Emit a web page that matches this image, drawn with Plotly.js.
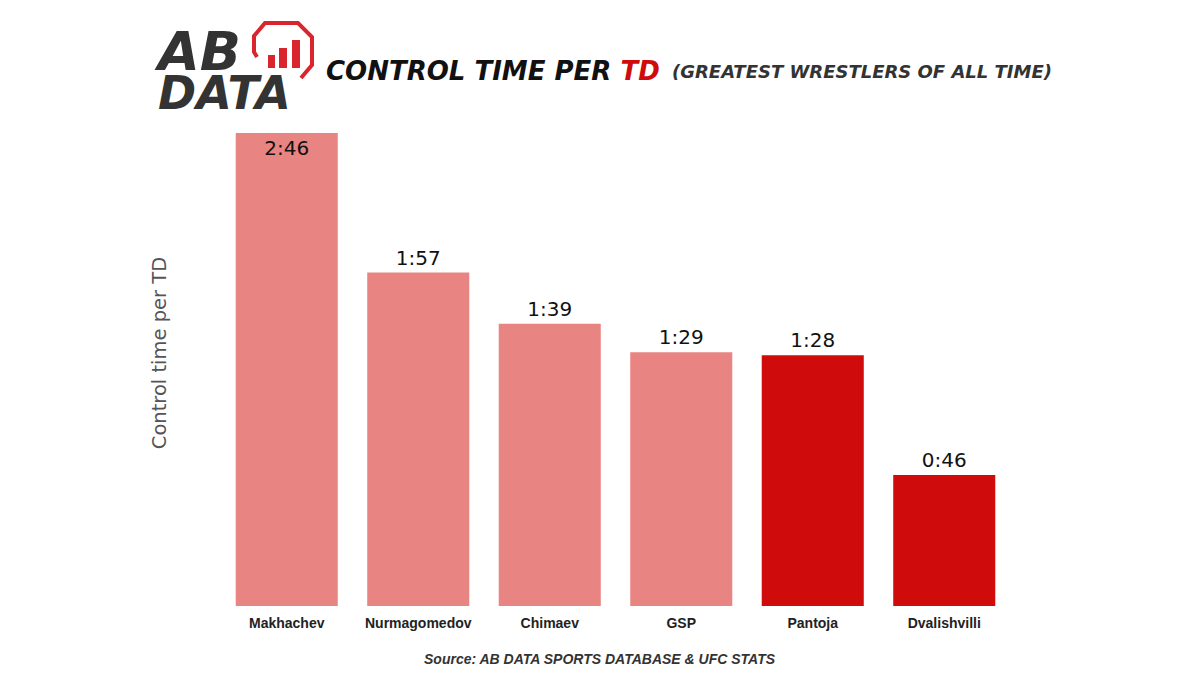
<!DOCTYPE html>
<html>
<head>
<meta charset="utf-8">
<script src="https://cdn.plot.ly/plotly-3.0.1.min.js"></script>
<style>
  html, body { margin: 0; padding: 0; background: #fff; }
  #plot { width: 1200px; height: 675px; }
</style>
</head>
<body>
<div id="plot"></div>
<script>
// fighters and their average control time per takedown (seconds)
const fighters = ["Makhachev", "Nurmagomedov", "Chimaev", "GSP", "Pantoja", "Dvalishvilli"];
const controlSeconds = [166, 117, 99, 89, 88, 46];
const highlighted = [false, false, false, false, true, true];

const LIGHT = "#e88481";
const DARK = "#d00b0b";

const fmt = (s) => Math.floor(s / 60) + ":" + String(s % 60).padStart(2, "0");

// page layout in pixels -> paper coordinates
const W = 1200, H = 675;
const margin = { l: 221, r: 190, t: 100, b: 69 };
const plotW = W - margin.l - margin.r;
const plotH = H - margin.t - margin.b;
const px = (x) => (x - margin.l) / plotW;
const py = (y) => (H - margin.b - y) / plotH;

const trace = {
  type: "bar",
  x: fighters,
  y: controlSeconds,
  text: controlSeconds.map(fmt),
  textposition: controlSeconds.map((v, i) => (i === 0 ? "inside" : "outside")),
  insidetextanchor: "end",
  constraintext: "none",
  cliponaxis: false,
  textfont: { family: "DejaVu Sans, sans-serif", size: 20, color: "#111" },
  marker: {
    color: highlighted.map((h) => (h ? DARK : LIGHT)),
    line: { width: 0 },
  },
  hoverinfo: "skip",
  showlegend: false,
};

// logo octagon (open at bottom-left) and its little bars
const octagon =
  `M ${px(257)} ${py(57)} L ${px(254)} ${py(52)} L ${px(254)} ${py(36)} L ${px(265)} ${py(23)} ` +
  `L ${px(298)} ${py(23)} L ${px(312)} ${py(37)} L ${px(312)} ${py(65)} L ${px(301)} ${py(78)}`;

const shapes = [
  {
    type: "path", xref: "paper", yref: "paper", path: octagon,
    line: { color: "#d9262e", width: 4 },
  },
  ...[[268, 275, 55], [279, 287, 48], [292, 300, 40]].map(([x0, x1, top]) => ({
    type: "rect", xref: "paper", yref: "paper",
    x0: px(x0), x1: px(x1), y0: py(68), y1: py(top),
    fillcolor: "#d9262e", line: { width: 0 },
  })),
];

const annotations = [
  {
    xref: "paper", yref: "paper", x: px(152), y: py(70), xanchor: "left", yanchor: "middle",
    align: "left",
    text: "<b><i><span style='font-size:54px'>AB</span><br><span style='font-size:46px'>DATA</span></i></b>",
    showarrow: false,
    font: { family: "DejaVu Sans, sans-serif", size: 30, color: "#333" },
  },
  {
    xref: "paper", yref: "paper", x: px(324), y: py(71), xanchor: "left", yanchor: "middle",
    text: "<b><i>CONTROL TIME PER <span style='color:#d00b0b'>TD</span></i></b>", showarrow: false,
    font: { family: "DejaVu Sans, sans-serif", size: 26, color: "#111" },
  },
  {
    xref: "paper", yref: "paper", x: px(670), y: py(71), xanchor: "left", yanchor: "middle",
    text: "<b><i>(GREATEST WRESTLERS OF ALL TIME)</i></b>", showarrow: false,
    font: { family: "DejaVu Sans, sans-serif", size: 18, color: "#333" },
  },
  {
    xref: "paper", yref: "paper", x: px(600), y: py(659), xanchor: "center", yanchor: "middle",
    text: "<b><i>Source: AB DATA SPORTS DATABASE &amp; UFC STATS</i></b>", showarrow: false,
    font: { family: "Liberation Sans, sans-serif", size: 14, color: "#333" },
  },
];

const layout = {
  width: W,
  height: H,
  margin,
  paper_bgcolor: "#fff",
  plot_bgcolor: "#fff",
  bargap: 0.224,
  xaxis: {
    showgrid: false,
    showline: false,
    zeroline: false,
    ticks: "",
    ticklabelstandoff: 7,
    tickfont: { family: "Liberation Sans, sans-serif", size: 14, color: "#222", weight: "bold" },
    automargin: false,
  },
  yaxis: {
    range: [0, plotH / 2.85],
    showgrid: false,
    showline: false,
    zeroline: false,
    showticklabels: false,
    ticks: "",
    automargin: false,
    title: {
      text: "Control time per TD",
      standoff: 48,
      font: { family: "DejaVu Sans, sans-serif", size: 19.5, color: "#555" },
    },
  },
  shapes,
  annotations,
};

Plotly.newPlot("plot", [trace], layout, { displayModeBar: false, staticPlot: true });
</script>
</body>
</html>
